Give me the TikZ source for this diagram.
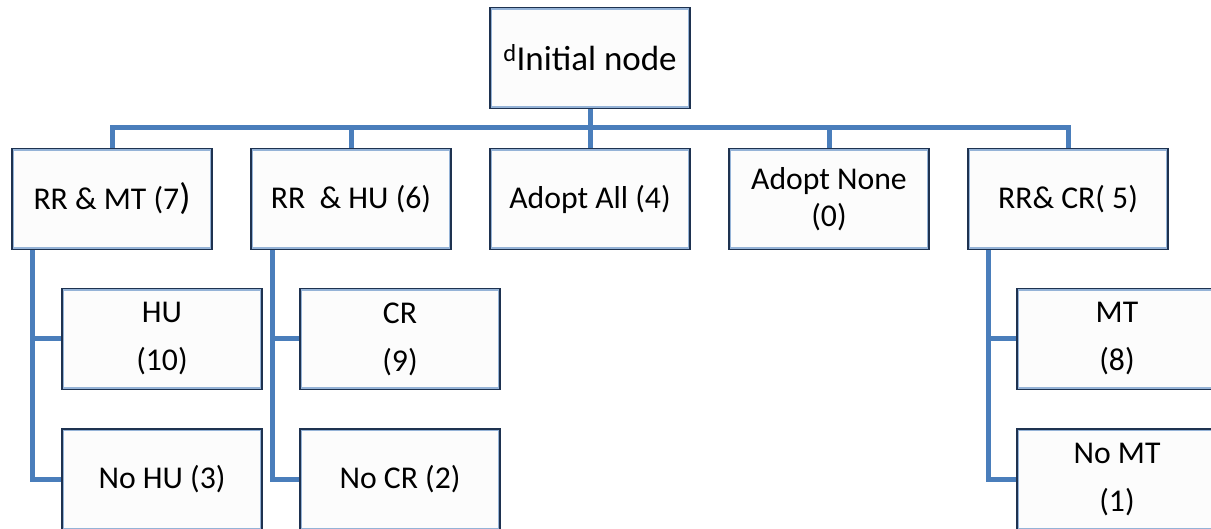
\documentclass[tikz,border=0pt]{standalone}
\usepackage{fontspec}
\setmainfont{Carlito}
\usetikzlibrary{calc}
\definecolor{connblue}{RGB}{74,126,187}
\definecolor{boxdark}{RGB}{30,50,80}
\definecolor{boxlight}{RGB}{149,179,215}
\definecolor{boxfill}{RGB}{252,252,252}
\tikzset{
  box/.style={draw=boxdark, line width=1.2pt, fill=boxfill, minimum width=200pt,
    minimum height=101pt, inner sep=0pt, align=center,
    font=\fontsize{31.7}{37}\selectfont,
    path picture={\draw[boxlight,line width=4.5pt] (path picture bounding box.south west) rectangle (path picture bounding box.north east);}},
  conn/.style={draw=connblue, line width=5pt, line join=miter}
}
\begin{document}
\begin{tikzpicture}[x=1pt,y=-1pt]
\useasboundingbox (0,0) rectangle (1211,529);
\node[box, font=\fontsize{35}{40}\selectfont] (init) at (590,58) {\textsuperscript{d}Initial node};
\node[box] (c1) at (112,199) {RR \& MT (7{\fontsize{37}{37}\selectfont )}};
\node[box] (c2) at (351,199) {RR\ \ \& HU (6)};
\node[box] (c3) at (590,199) {Adopt All (4)};
\node[box] (c4) at (829,199) {Adopt None\\(0)};
\node[box] (c5) at (1068,199) {RR\& CR( 5)};
\node[box] (g1a) at (162,339) {HU\\[11pt](10)};
\node[box] (g1b) at (162,479.5) {No HU (3)};
\node[box] (g2a) at (400,339) {CR\\[11pt](9)};
\node[box] (g2b) at (400,479.5) {No CR (2)};
\node[box] (g5a) at (1117,339) {MT\\[11pt](8)};
\node[box] (g5b) at (1117,479.5) {No MT\\[11pt](1)};
\coordinate (bus) at (0,128);
\foreach \c in {c1,c2,c3,c4,c5}{
  \draw[conn] (init.south) |- (\c.north |- bus) -- (\c.north);
}
\draw[conn] ([xshift=21pt]c1.south west) |- (g1a.west);
\draw[conn] ([xshift=21pt]c1.south west) |- (g1b.west);
\draw[conn] ([xshift=22pt]c2.south west) |- (g2a.west);
\draw[conn] ([xshift=22pt]c2.south west) |- (g2b.west);
\draw[conn] ([xshift=21pt]c5.south west) |- (g5a.west);
\draw[conn] ([xshift=21pt]c5.south west) |- (g5b.west);
\end{tikzpicture}
\end{document}
